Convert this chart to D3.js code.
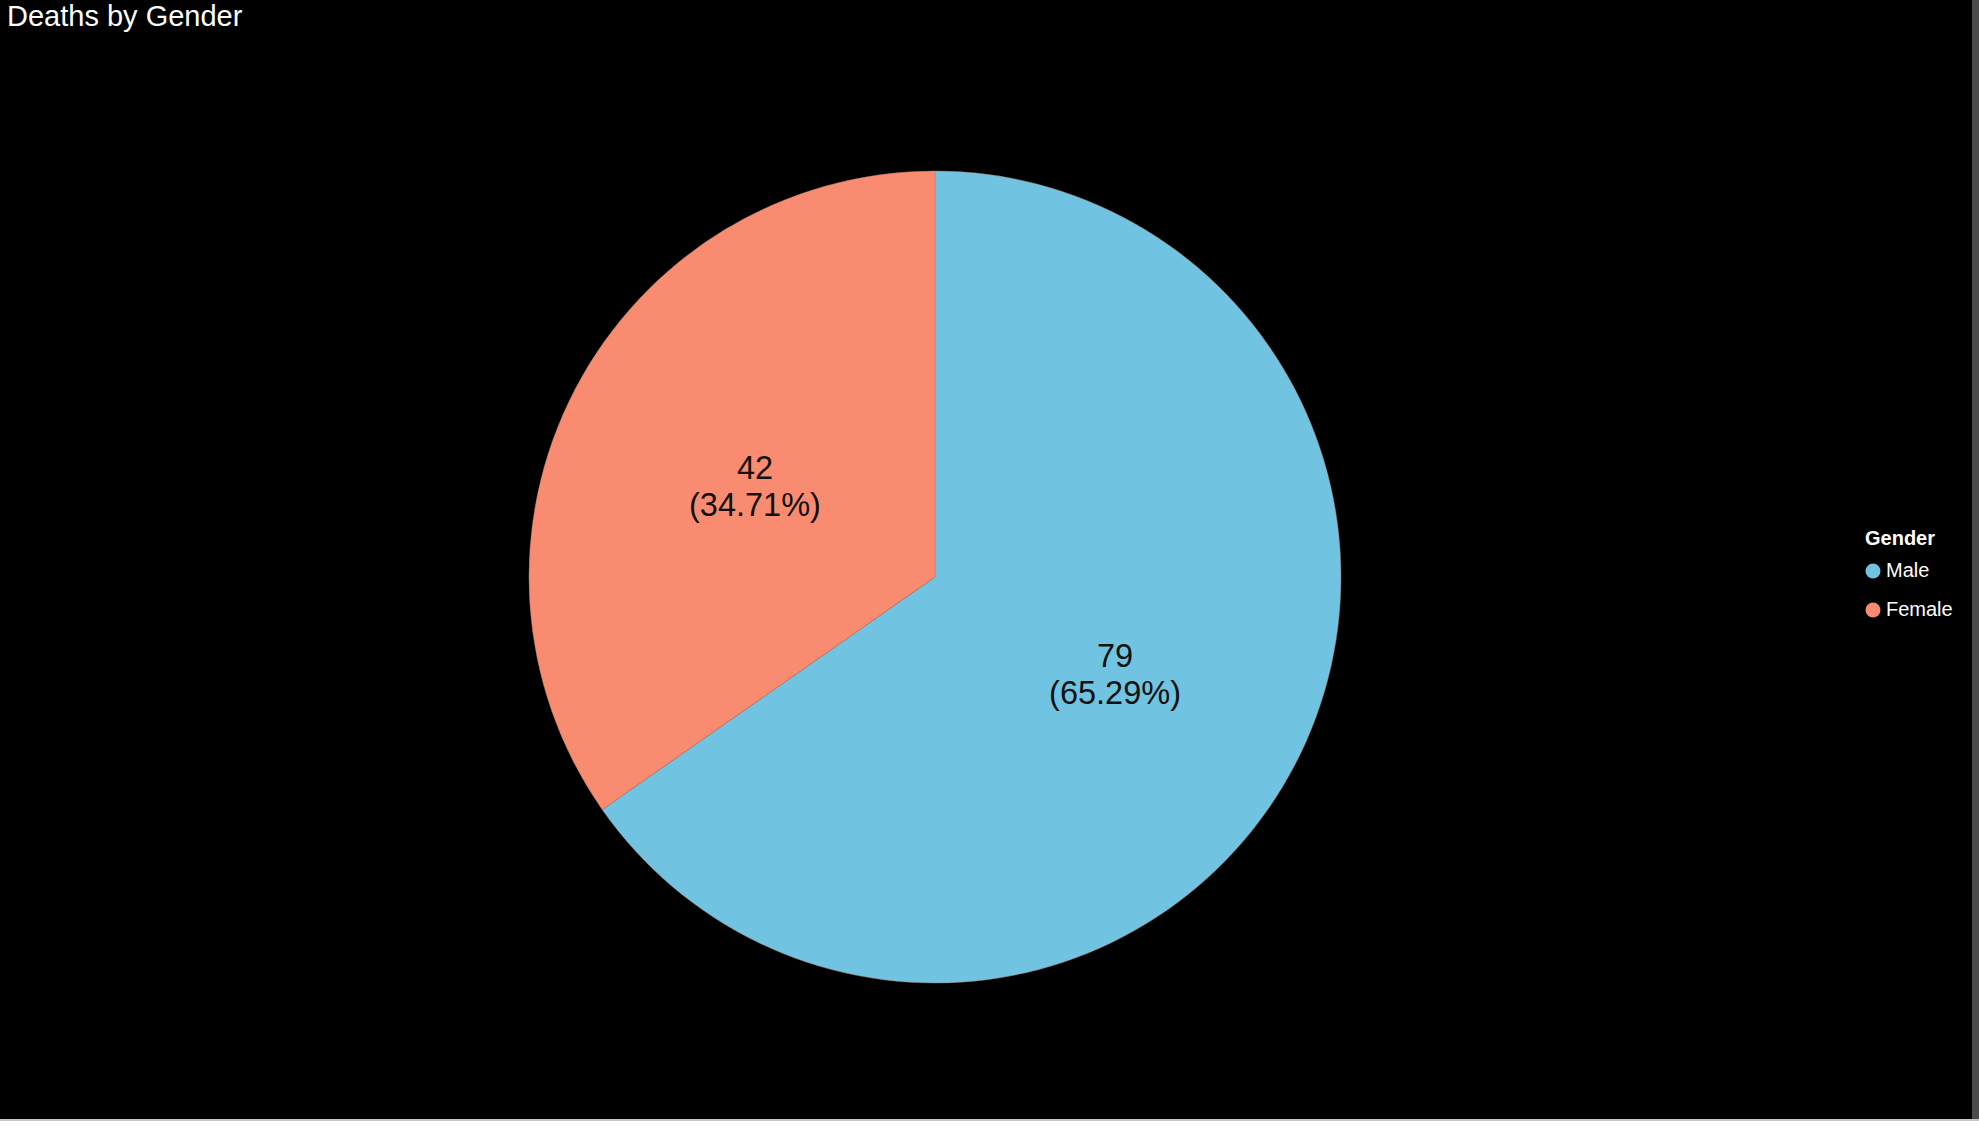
<!DOCTYPE html>
<html><head><meta charset="utf-8">
<script src="https://cdn.jsdelivr.net/npm/d3@7"></script>
<style>html,body{margin:0;padding:0;background:#fff;overflow:hidden}svg{display:block}</style>
</head><body>
<svg id="c" width="1979" height="1128"></svg>
<script>
const categories = ["Male", "Female"];
const values = [79, 42];
const colors = ["#70C4E1", "#F98C70"];
const title = "Deaths by Gender";
const legendTitle = "Gender";

const W = 1979, H = 1128;
const svg = d3.select("#c");
svg.append("rect").attr("x",0).attr("y",0).attr("width",W).attr("height",H).attr("fill","#fff");
svg.append("rect").attr("x",0).attr("y",0).attr("width",1972).attr("height",1119).attr("fill","#000");
svg.append("rect").attr("x",1972).attr("y",0).attr("width",7).attr("height",1119).attr("fill","#4a4a4a");
svg.append("rect").attr("x",0).attr("y",1119).attr("width",1979).attr("height",2).attr("fill","#c8c8c8");

svg.append("text").attr("x",7).attr("y",26).attr("fill","#fff")
  .attr("font-family","Liberation Sans, Arial, sans-serif").attr("font-size",29).text(title);

const cx = 935, cy = 577, R = 406;
const total = d3.sum(values);
const data = categories.map((c,i)=>({cat:c, value:values[i], color:colors[i]}));
const pie = d3.pie().value(d=>d.value).sort(null);
const arc = d3.arc().innerRadius(0).outerRadius(R);
const g = svg.append("g").attr("transform",`translate(${cx},${cy})`);
const arcs = pie(data);
g.selectAll("path").data(arcs).join("path")
  .attr("d", arc).attr("fill", d=>d.data.color)
  .attr("stroke", "#b07a6a").attr("stroke-width", 0.8).attr("stroke-opacity",0.6);

const labelArc = d3.arc().innerRadius(0).outerRadius(R);
const lbl = g.selectAll("text.lbl").data(arcs).join("text").attr("class","lbl")
  .attr("transform", d=>{const [x,y]=labelArc.centroid(d); return `translate(${x},${y})`;})
  .attr("text-anchor","middle").attr("fill","#111")
  .attr("font-family","Liberation Sans, Arial, sans-serif").attr("font-size",32.5);
lbl.append("tspan").attr("x",0).attr("dy",-4).text(d=>d.data.value);
lbl.append("tspan").attr("x",0).attr("dy",37).text(d=>"(" + (d.data.value/total*100).toFixed(2) + "%)");

const lg = svg.append("g").attr("transform","translate(1865,545)");
lg.append("text").attr("x",0).attr("y",0).attr("fill","#fff").attr("font-weight","bold")
  .attr("font-family","Liberation Sans, Arial, sans-serif").attr("font-size",20).text(legendTitle);
const items = lg.selectAll("g.it").data(data).join("g").attr("class","it")
  .attr("transform",(d,i)=>`translate(0,${26 + i*39})`);
items.append("circle").attr("cx",8).attr("cy",0).attr("r",7.5).attr("fill",d=>d.color);
items.append("text").attr("x",21).attr("y",6).attr("fill","#fff")
  .attr("font-family","Liberation Sans, Arial, sans-serif").attr("font-size",20).text(d=>d.cat);
</script>
</body></html>
